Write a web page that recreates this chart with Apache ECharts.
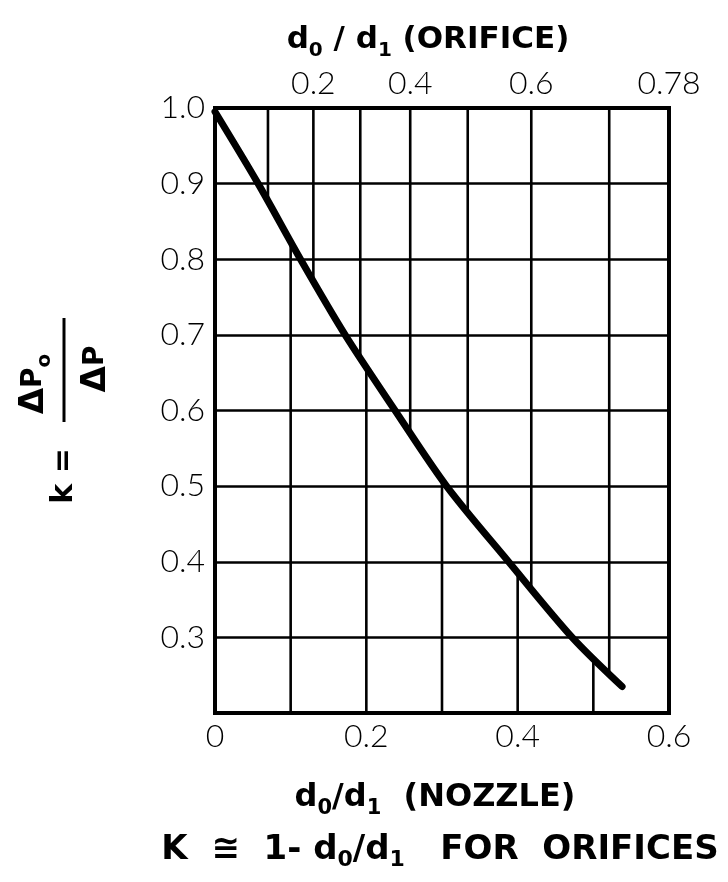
<!DOCTYPE html>
<html><head><meta charset="utf-8">
<script src="https://cdn.jsdelivr.net/npm/echarts@6/dist/echarts.min.js"></script>
<style>html,body{margin:0;padding:0;background:#fff}#c{width:728px;height:882px}</style>
</head><body><div id="c"></div>
<script>
// ---- curve: k = Δp0/Δp versus nozzle d0/d1 ----
const nozzleX = [0.0, 0.057, 0.113, 0.172, 0.238, 0.306, 0.388, 0.472, 0.538];
const kValues = [0.995, 0.9, 0.8, 0.7, 0.6, 0.5, 0.4, 0.3, 0.235];

// ---- bottom axis (nozzle) ----
const nozzleGridValues = [0.1, 0.2, 0.3, 0.4, 0.5];

// ---- top axis (orifice d0/d1), with its position on the nozzle scale ----
const orificeValues = [0.1, 0.2, 0.3, 0.4, 0.5, 0.6, 0.7, 0.78];
const orificePos    = [0.070, 0.130, 0.192, 0.258, 0.334, 0.418, 0.521, 0.6];
const orificeLabelValues = [0.2, 0.4, 0.6, 0.78];

// ---- y axis ----
const kMin = 0.2, kMax = 1.0, kStep = 0.1;

const TICK_FONT = 'Lato, "Noto Sans", sans-serif';
const TITLE_FONT = '"DejaVu Sans", "Noto Sans", sans-serif';

function kAt(x) {
  for (let i = 0; i < nozzleX.length - 1; i++) {
    if (x >= nozzleX[i] && x <= nozzleX[i + 1]) {
      const t = (x - nozzleX[i]) / (nozzleX[i + 1] - nozzleX[i]);
      return kValues[i] + t * (kValues[i + 1] - kValues[i]);
    }
  }
  return kValues[kValues.length - 1];
}

const gridLineStyle = { color: '#000', width: 2.6 };
const series = [];
// orifice vertical lines: from top down to the curve
orificeValues.forEach((o, i) => {
  const p = orificePos[i];
  if (p >= 0.6) return;
  series.push({ type: 'line', xAxisIndex: 0, yAxisIndex: 0, symbol: 'none', silent: true, z: 2,
    lineStyle: gridLineStyle, data: [[p, kMax], [p, kAt(p)]] });
});
// nozzle vertical lines: from bottom up to the curve
nozzleGridValues.forEach(p => {
  series.push({ type: 'line', xAxisIndex: 0, yAxisIndex: 0, symbol: 'none', silent: true, z: 2,
    lineStyle: gridLineStyle, data: [[p, kMin], [p, kAt(p)]] });
});
// the curve
series.push({ type: 'line', xAxisIndex: 0, yAxisIndex: 0, symbol: 'none', smooth: 0.3, z: 5,
  lineStyle: { color: '#000', width: 7, cap: 'round' },
  data: nozzleX.map((x, i) => [x, kValues[i]]) });

const topLabelPos = orificeLabelValues.map(o => orificePos[orificeValues.indexOf(o)]);

const sub = (size) => ({ fontSize: size, fontFamily: TITLE_FONT, fontWeight: 'bold', color: '#000', lineHeight: 22, verticalAlign: 'bottom' });
const main = (size) => ({ fontSize: size, fontFamily: TITLE_FONT, fontWeight: 'bold', color: '#000', lineHeight: 42, verticalAlign: 'middle' });

const chart = echarts.init(document.getElementById('c'), null, { renderer: 'canvas' });
chart.setOption({
  animation: false,
  backgroundColor: '#fff',
  grid: { left: 215, top: 108, width: 454, height: 605, show: true, borderColor: '#000', borderWidth: 4, backgroundColor: 'transparent' },
  xAxis: [
    { type: 'value', position: 'bottom', min: 0, max: 0.6, interval: 0.2,
      axisLine: { show: false }, axisTick: { show: false }, splitLine: { show: false },
      axisLabel: { margin: 8, fontSize: 32, fontWeight: 300, fontFamily: TICK_FONT, color: '#000', showMaxLabel: true, showMinLabel: true,
        formatter: v => (v === 0 ? '0' : v.toFixed(1)) } },
    { type: 'value', position: 'top', min: 0, max: 0.6,
      axisLine: { show: false }, axisTick: { show: false }, splitLine: { show: false },
      axisLabel: { margin: 8, fontSize: 32, fontWeight: 300, fontFamily: TICK_FONT, color: '#000', customValues: topLabelPos,
        formatter: v => {
          let best = 0;
          topLabelPos.forEach((p, i) => { if (Math.abs(p - v) < Math.abs(topLabelPos[best] - v)) best = i; });
          const o = orificeLabelValues[best];
          return o === 0.78 ? '0.78' : o.toFixed(1);
        } } }
  ],
  yAxis: [
    { type: 'value', min: kMin, max: kMax, interval: kStep,
      axisLine: { show: false }, axisTick: { show: false },
      splitLine: { show: true, lineStyle: gridLineStyle },
      axisLabel: { margin: 10, fontSize: 32, fontWeight: 300, fontFamily: TICK_FONT, color: '#000', showMinLabel: false,
        formatter: v => v.toFixed(1) } }
  ],
  series: series,
  graphic: [
    { type: 'text', x: 428, y: 40, style: { text: '{n|d}{s|0}{n| / d}{s|1}{n| (ORIFICE)}', align: 'center', verticalAlign: 'middle',
        rich: { n: main(31), s: sub(20) } } },
    { type: 'text', x: 435, y: 798, style: { text: '{n|d}{s|0}{n|/d}{s|1}{n|  (NOZZLE)}', align: 'center', verticalAlign: 'middle',
        rich: { n: main(32), s: sub(21) } } },
    { type: 'text', x: 440, y: 850, style: { text: '{n|K  ≅  1- d}{s|0}{n|/d}{s|1}{n|   FOR  ORIFICES}', align: 'center', verticalAlign: 'middle',
        rich: { n: main(34), s: sub(22) } } },
    // y-axis title  k = Δp0 / Δp  (rotated)
    { type: 'text', x: 64, y: 476, rotation: Math.PI / 2, style: { text: 'k =', align: 'center', verticalAlign: 'middle',
        font: 'bold 30px ' + TITLE_FONT, fill: '#000' } },
    { type: 'text', x: 34, y: 384, rotation: Math.PI / 2, style: { text: '{d|Δ}{p|P}{s|o}', align: 'center', verticalAlign: 'middle',
        rich: { d: main(34), p: main(28), s: sub(20) } } },
    { type: 'text', x: 96, y: 369, rotation: Math.PI / 2, style: { text: '{d|Δ}{p|P}', align: 'center', verticalAlign: 'middle',
        rich: { d: main(34), p: main(28) } } },
    { type: 'line', shape: { x1: 64, y1: 318, x2: 64, y2: 422 }, style: { stroke: '#000', lineWidth: 3 } }
  ]
});
</script></body></html>
